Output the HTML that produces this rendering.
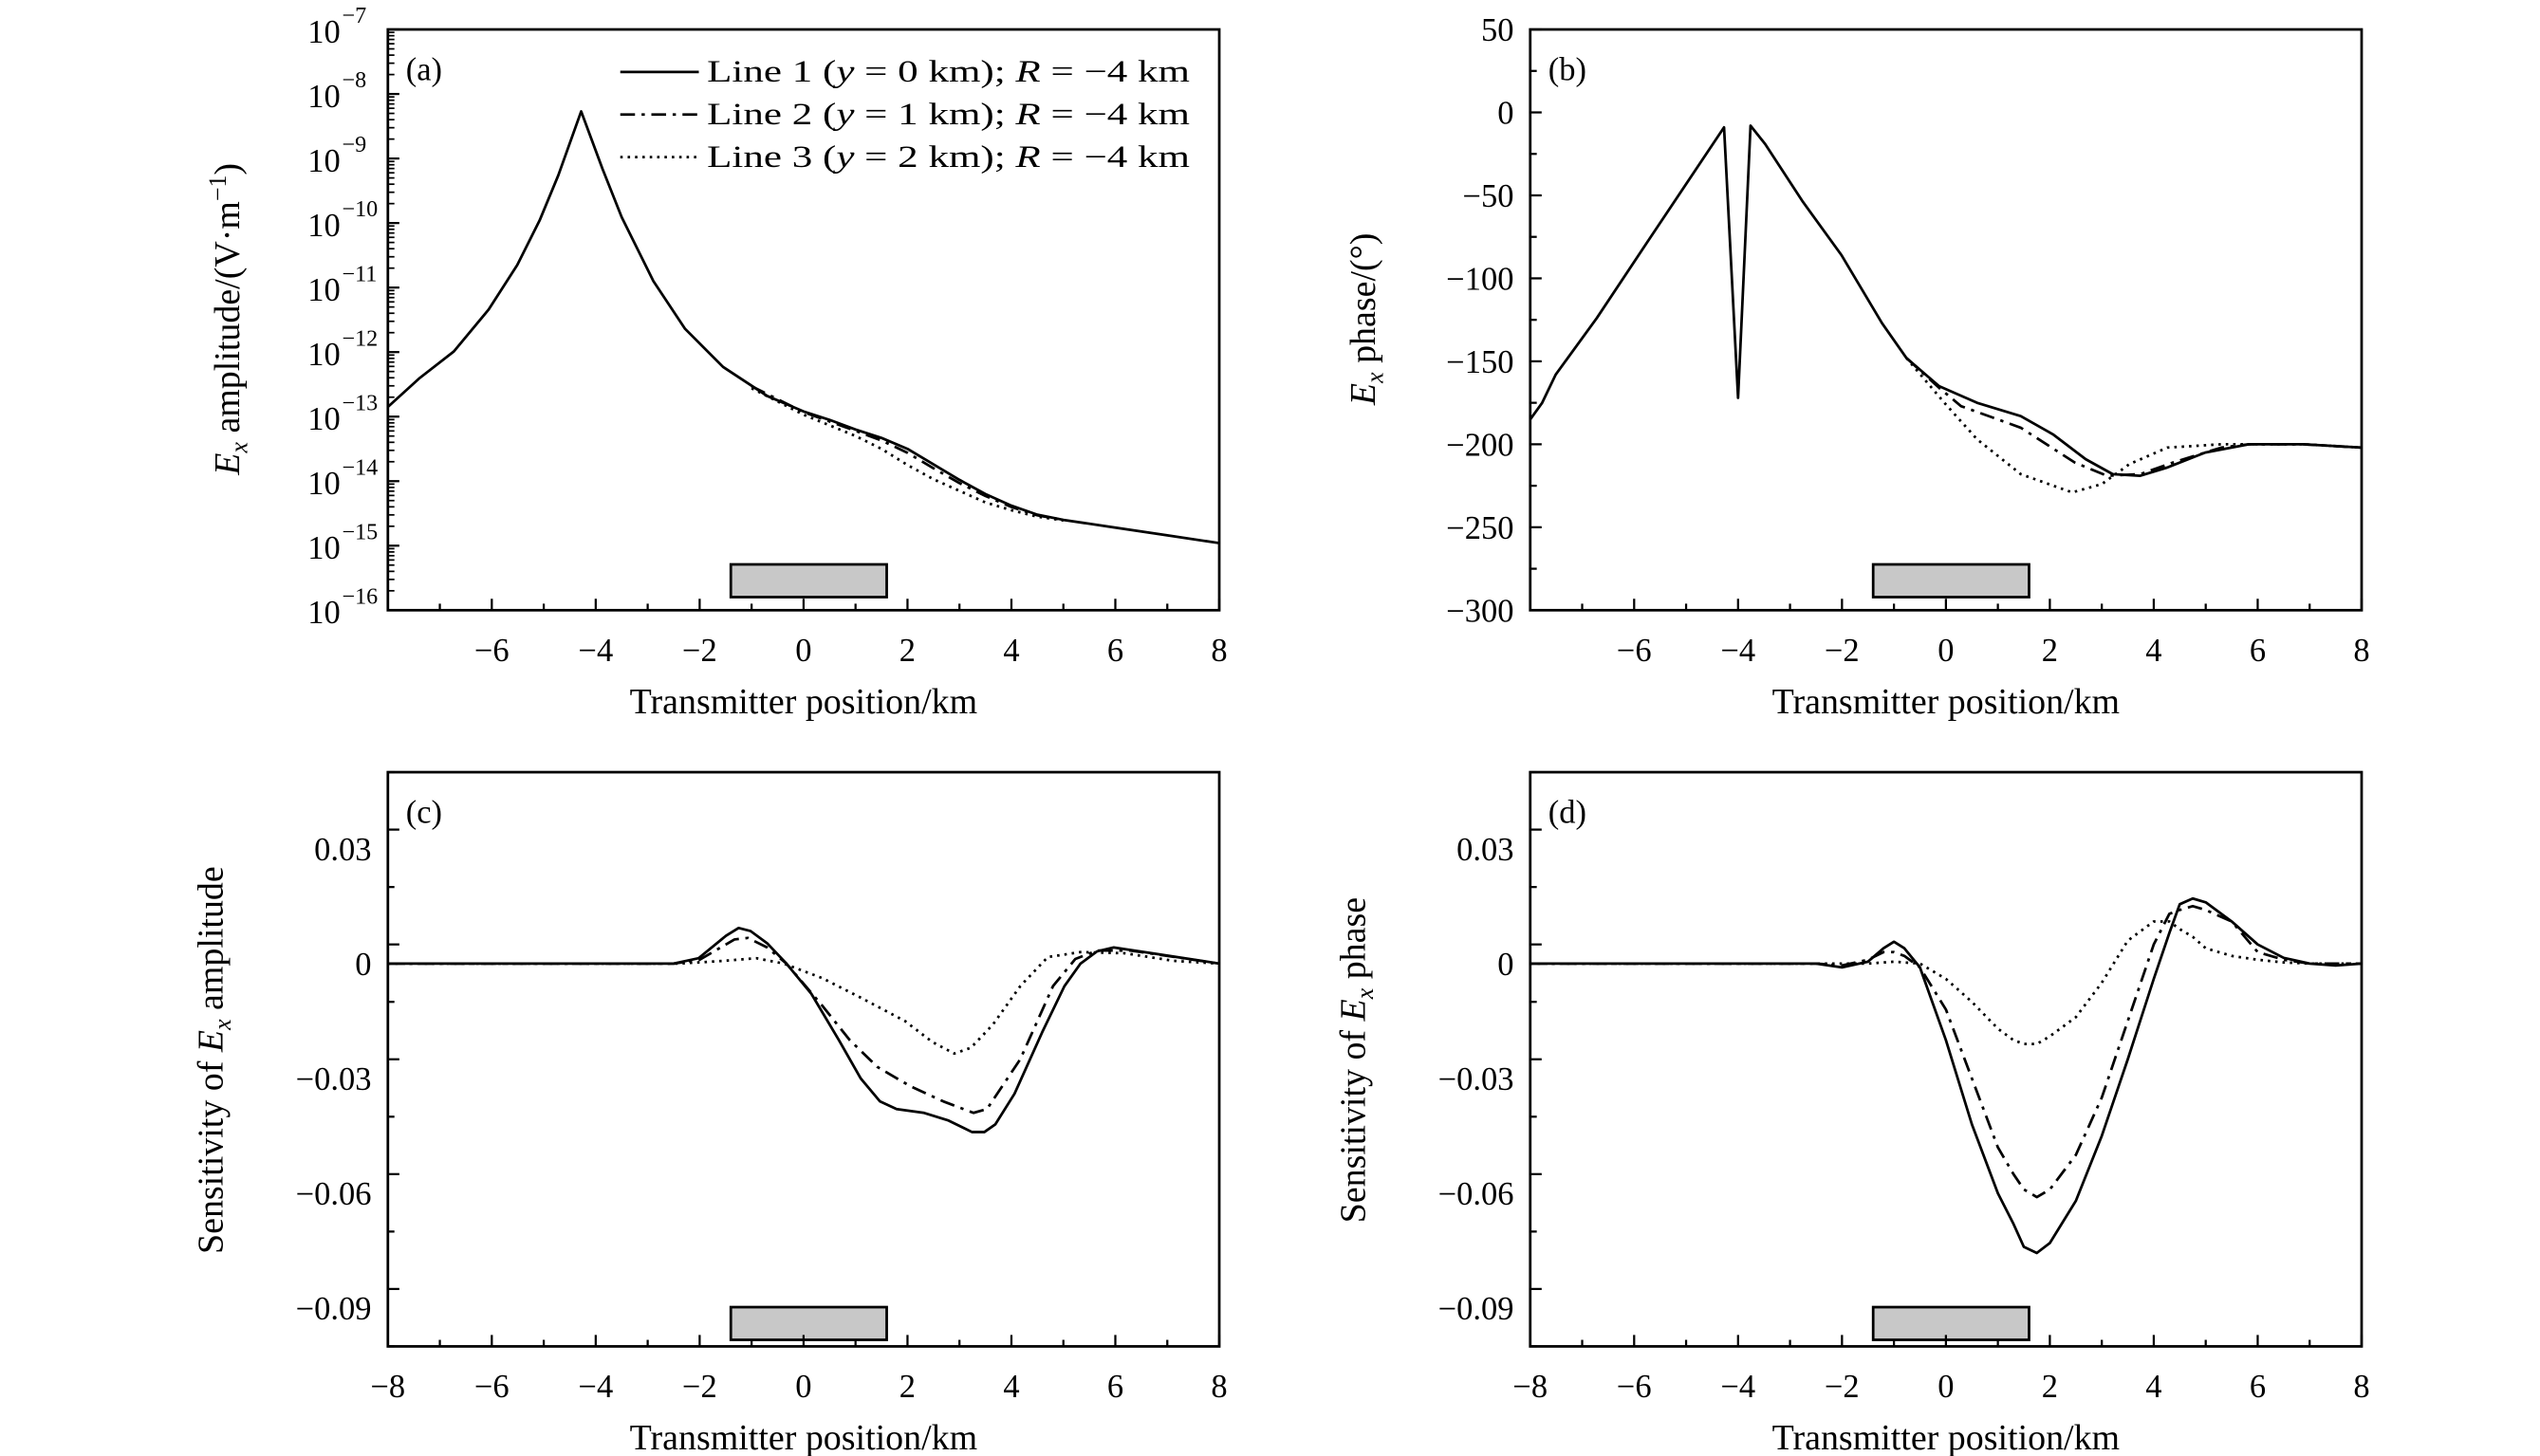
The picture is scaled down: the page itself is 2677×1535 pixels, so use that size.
<!DOCTYPE html>
<html><head><meta charset="utf-8"><style>
html,body{margin:0;padding:0;background:#fff;}
svg{display:block;font-family:"Liberation Serif",serif;}
</style></head><body>
<svg id="fig" width="2677" height="1535" viewBox="0 0 1552 890" preserveAspectRatio="none" xmlns="http://www.w3.org/2000/svg"></svg>
<script>
// ---- data ----
const aX1=[-8,-7.4,-6.73,-6.06,-5.51,-5.08,-4.72,-4.28,-3.87,-3.5,-2.89,-2.28,-1.55,-0.7,0,0.5,1,1.5,2,2.5,3,3.5,4,4.5,5,6,7,8];
const aY1=[-12.85,-12.41,-11.99,-11.34,-10.65,-9.96,-9.26,-8.27,-9.16,-9.91,-10.9,-11.64,-12.23,-12.68,-12.92,-13.05,-13.2,-13.33,-13.5,-13.74,-13.98,-14.2,-14.38,-14.52,-14.6,-14.72,-14.84,-14.96];
const aX2=[-1,0,1,1.5,2,2.5,3,3.5,4,4.5,5];
const aY2=[-12.53,-12.93,-13.22,-13.37,-13.56,-13.8,-14.03,-14.23,-14.4,-14.53,-14.6];
const aY3=[-12.56,-12.97,-13.3,-13.5,-13.75,-13.97,-14.15,-14.33,-14.45,-14.55,-14.61];
const bX1=[-8,-7.77,-7.51,-6.72,-5.68,-4.27,-4.0,-3.76,-3.48,-2.75,-2.01,-1.23,-0.76,-0.13,0.6,1.44,2.06,2.69,3.21,3.74,4.26,4.99,5.83,6.88,8];
const bY1=[-185,-175,-158,-124,-75,-9,-172,-8,-19,-54,-86,-127,-148,-165,-175,-183,-194,-209,-218,-219,-214,-205,-200,-200,-202];
const bX2=[-0.76,-0.13,0.29,1.44,2.48,3.1,3.74,4.37,5.3,5.83,6.88,8];
const bY2=[-148,-166,-177,-190,-211,-219,-218,-211,-202,-200,-200,-202];
const bX3=[-0.76,-0.03,0.6,1.44,2.43,3.0,3.53,4.26,5.3,6.88,8];
const bY3=[-148,-175,-197,-218,-229,-224,-212,-202,-200,-200,-202];
const cX1=[-8,-2.5,-2.02,-1.49,-1.25,-1.02,-0.7,-0.33,0.15,0.68,1.1,1.47,1.79,2.32,2.79,3.24,3.48,3.69,4.06,4.59,5.02,5.33,5.65,5.97,6.71,8];
const cY1=[0,0,0.0014,0.0073,0.0093,0.0085,0.0053,0,-0.0079,-0.02,-0.03,-0.036,-0.038,-0.039,-0.041,-0.044,-0.044,-0.042,-0.034,-0.018,-0.0059,0,0.0032,0.0042,0.0027,0];
const cX2=[-8,-2.5,-2,-1.33,-1.07,-0.7,-0.33,0.36,0.89,1.42,2.05,2.69,3.27,3.53,4.17,4.8,5.23,5.65,6.29,8];
const cY2=[0,0,0.001,0.0063,0.0067,0.0042,0,-0.011,-0.02,-0.027,-0.032,-0.036,-0.039,-0.038,-0.025,-0.0059,0.0012,0.0034,0.0034,0];
const cX3=[-8,-2.4,-1.54,-0.91,-0.38,0.36,1.1,1.95,2.48,2.9,3.22,3.64,4.17,4.7,5.33,6.18,7.13,8];
const cY3=[0,0,0.0007,0.0014,0,-0.0038,-0.0089,-0.015,-0.0205,-0.0235,-0.022,-0.016,-0.0059,0.0017,0.003,0.0027,0.0007,0];
const dX=[-8,-2.5,-2,-1.5,-1.2,-1,-0.8,-0.5,0,0.5,1,1.3,1.5,1.75,2,2.5,3,3.5,4,4.3,4.5,4.75,5,5.5,6,6.5,7,7.5,8];
const dY1=[0,0,-0.001,0.0005,0.004,0.0057,0.004,-0.001,-0.02,-0.042,-0.06,-0.068,-0.074,-0.0756,-0.073,-0.062,-0.045,-0.025,-0.004,0.008,0.0155,0.017,0.016,0.011,0.005,0.0015,0,-0.0005,0];
const dY2=[0,0,-0.0005,0.001,0.003,0.003,0.002,-0.001,-0.012,-0.03,-0.048,-0.055,-0.059,-0.061,-0.059,-0.05,-0.035,-0.015,0.005,0.013,0.014,0.015,0.014,0.011,0.003,0.001,0,0,0];
const dY3=[0,0,0,0,0.0003,0.0005,0.0003,0,-0.004,-0.01,-0.017,-0.02,-0.021,-0.021,-0.019,-0.014,-0.005,0.006,0.011,0.011,0.009,0.007,0.004,0.002,0.001,0.0003,0,0,0];
const xTicks=[-8,-6,-4,-2,0,2,4,6,8];
const aTicks=[-7,-8,-9,-10,-11,-12,-13,-14,-15,-16];
const bTicks=[50,0,-50,-100,-150,-200,-250,-300];
const sTicks=[0.03,0,-0.03,-0.06,-0.09];
const sTickLabels=["0.03","0","\u22120.03","\u22120.06","\u22120.09"];
const legendLabels=["1","0","2","1","3","2"];

const NS="http://www.w3.org/2000/svg";
const svg=document.getElementById('fig');
function el(tag,attrs,parent,text){const e=document.createElementNS(NS,tag);for(const k in attrs)e.setAttribute(k,attrs[k]);if(text!==undefined)e.textContent=text;(parent||svg).appendChild(e);return e;}
const DASH={solid:'',dashdot:'9,4,2,4',dot:'1.5,3'};
const TF=20;

function panel(name,L,T,R,B,ymin,ymax,opts){
  const g=el('g',{});
  
  
  const sx=v=>L+(v+8)/16*(R-L);
  const sy=v=>B-(v-ymin)/(ymax-ymin)*(B-T);
  opts.series.forEach(s=>{
    const p=el('polyline',{points:s.x.map((xv,i)=>sx(xv).toFixed(2)+','+sy(s.y[i]).toFixed(2)).join(' '),fill:'none',stroke:'#000','stroke-width':1.6,'stroke-dasharray':DASH[s.style],'stroke-linejoin':'round'},g);
    
    
  });
  const r=el('rect',{x:sx(-1.4),y:opts.rectY,width:sx(1.6)-sx(-1.4),height:20,fill:'#c8c8c8',stroke:'#000','stroke-width':1.6},g);
  
  
  const fr=el('rect',{x:L,y:T,width:R-L,height:B-T,fill:'none',stroke:'#000','stroke-width':1.6},g);
  
  
  for(let v=-8;v<=8;v++){const x=sx(v);const len=(v%2===0)?7:4;el('line',{x1:x,y1:B,x2:x,y2:B-len,stroke:'#000','stroke-width':1.3},g);}
  xTicks.forEach(v=>{if(opts.skipX8&&v===-8)return;const t=el('text',{x:sx(v),y:B+31,'font-size':TF,'text-anchor':'middle'},g,(v<0?'\u2212':'')+Math.abs(v));
    });
  const xt=el('text',{x:(L+R)/2,y:B+63,'font-size':22,'text-anchor':'middle'},g,'Transmitter position/km');
  
  opts.yAxis(g,sx,sy);
  const pl=el('text',{x:L+11,y:T+31,'font-size':20},g,opts.label);
  
  return {g,sx,sy};
}

// (a)
panel('panel-a-amplitude',237,18,745,373,-16,-7,{label:'(a)',skipX8:true,rectY:345,
 series:[{name:'line1-amplitude',x:aX1,y:aY1,style:'solid'},{name:'line2-amplitude',x:aX2,y:aY2,style:'dashdot'},{name:'line3-amplitude',x:aX2,y:aY3,style:'dot'}],
 yAxis:(g,sx,sy)=>{
  aTicks.forEach(v=>{const y=sy(v);el('line',{x1:237,y1:y,x2:244,y2:y,stroke:'#000','stroke-width':1.3},g);
    for(let m=2;m<=9;m++){if(v<=-16)break;const ym=sy(v-1+Math.log10(m));el('line',{x1:237,y1:ym,x2:241,y2:ym,stroke:'#000','stroke-width':1},g);}
    const t=el('text',{x:208,y:y+8,'font-size':TF,'text-anchor':'end'},g,'10');
    
    el('text',{x:209,y:y-4,'font-size':14},g,'\u2212'+Math.abs(v));});
  const t=el('text',{transform:'translate(146,195) rotate(-90)','font-size':22,'text-anchor':'middle'},g);
  
  el('tspan',{'font-style':'italic'},t,'E');el('tspan',{'font-style':'italic','font-size':15,dy:5},t,'x');
  el('tspan',{dy:-5},t,' amplitude/(V\u00b7m');el('tspan',{'font-size':15,dy:-8},t,'\u22121');el('tspan',{dy:8},t,')');
 }});
const lg=el('g',{});
[['solid',44],['dashdot',70],['dot',96]].forEach((r,i)=>{
  const e=el('g',{},lg);
  el('line',{x1:379,y1:r[1],x2:427,y2:r[1],stroke:'#000','stroke-width':1.6,'stroke-dasharray':DASH[r[0]]},e);
  const t=el('text',{x:432,y:r[1]+6,'font-size':19,textLength:295,lengthAdjust:'spacingAndGlyphs'},e);
  el('tspan',{},t,'Line '+legendLabels[i*2]+' (');el('tspan',{'font-style':'italic'},t,'y');
  el('tspan',{},t,' = '+legendLabels[i*2+1]+' km); ');el('tspan',{'font-style':'italic'},t,'R');el('tspan',{},t,' = \u22124 km');
});

// (b)
panel('panel-b-phase',935,18,1443,373,-300,50,{label:'(b)',skipX8:true,rectY:345,
 series:[{name:'line1-phase',x:bX1,y:bY1,style:'solid'},{name:'line2-phase',x:bX2,y:bY2,style:'dashdot'},{name:'line3-phase',x:bX3,y:bY3,style:'dot'}],
 yAxis:(g,sx,sy)=>{
  for(let v=-300;v<=50;v+=25){const y=sy(v);el('line',{x1:935,y1:y,x2:935+(v%50===0?7:4),y2:y,stroke:'#000','stroke-width':1.3},g);}
  bTicks.forEach(v=>{const t=el('text',{x:925,y:sy(v)+7,'font-size':TF,'text-anchor':'end'},g,(v<0?'\u2212':'')+Math.abs(v));
   });
  const t=el('text',{transform:'translate(840,195) rotate(-90)','font-size':22,'text-anchor':'middle'},g);
  
  el('tspan',{'font-style':'italic'},t,'E');el('tspan',{'font-style':'italic','font-size':15,dy:5},t,'x');el('tspan',{dy:-5},t,' phase/(\u00b0)');
 }});

function sensY(L,tx,title){return (g,sx,sy)=>{
  for(let v=-0.1;v<=0.0501;v+=0.015){const y=sy(v);const major=Math.abs(Math.round(v/0.015))%2===0;el('line',{x1:L,y1:y,x2:L+(major?7:4),y2:y,stroke:'#000','stroke-width':1.3},g);}
  sTicks.forEach((v,i)=>{const t=el('text',{x:L-10,y:sy(v)+7,'font-size':TF,'text-anchor':'end'},g,sTickLabels[i]);
   });
  const t=el('text',{transform:'translate('+tx+',648) rotate(-90)','font-size':22,'text-anchor':'middle'},g);
  
  el('tspan',{},t,'Sensitivity of ');el('tspan',{'font-style':'italic'},t,'E');el('tspan',{'font-style':'italic','font-size':15,dy:5},t,'x');el('tspan',{dy:-5},t,' '+title);
};}
panel('panel-c-amp-sensitivity',237,472,745,823,-0.1,0.05,{label:'(c)',rectY:799,
 series:[{name:'line1-amp-sens',x:cX1,y:cY1,style:'solid'},{name:'line2-amp-sens',x:cX2,y:cY2,style:'dashdot'},{name:'line3-amp-sens',x:cX3,y:cY3,style:'dot'}],
 yAxis:sensY(237,136,'amplitude')});
panel('panel-d-phase-sensitivity',935,472,1443,823,-0.1,0.05,{label:'(d)',rectY:799,
 series:[{name:'line1-phase-sens',x:dX,y:dY1,style:'solid'},{name:'line2-phase-sens',x:dX,y:dY2,style:'dashdot'},{name:'line3-phase-sens',x:dX,y:dY3,style:'dot'}],
 yAxis:sensY(935,834,'phase')});
</script>
</body></html>
